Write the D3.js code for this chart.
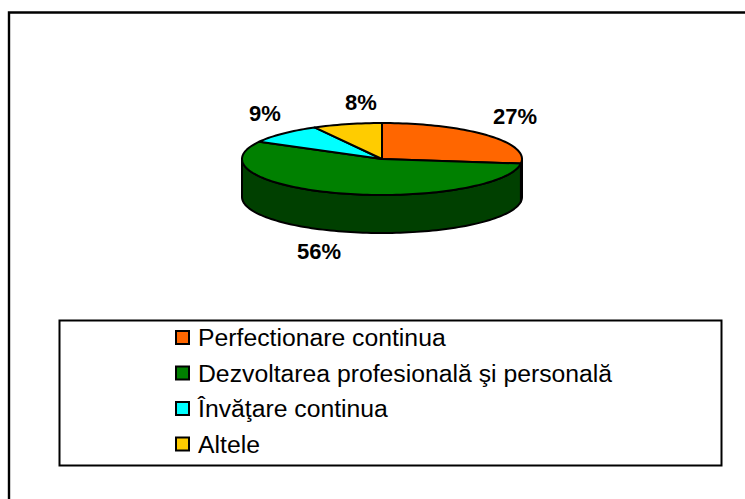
<!DOCTYPE html>
<html>
<head>
<meta charset="utf-8">
<script src="https://cdn.jsdelivr.net/npm/d3@7"></script>
<style>
  html, body { margin: 0; padding: 0; background: #fff; overflow: hidden; }
  svg { display: block; }
  text { font-family: "Liberation Sans", Arial, sans-serif; fill: #000; }
</style>
</head>
<body>
<div id="chart"></div>
<script>
const categories = ["Perfectionare continua", "Dezvoltarea profesională şi personală", "Învăţare continua", "Altele"];
const values = [27, 56, 9, 8];
const colors = ["#FF6600", "#008000", "#00FFFF", "#FFCC00"];
const sideColors = ["#803300", "#004000", "#008080", "#806600"];

const width = 745, height = 499;
const cx = 382, cy = 159, rx = 140, ry = 36, depth = 38;

const svg = d3.select("#chart").append("svg")
    .attr("width", width)
    .attr("height", height);

// the frame is cut off by the image on the right and at the bottom
svg.append("path")
    .attr("d", `M9,${height}V12.5H${width}`)
    .attr("fill", "none")
    .attr("stroke", "#000")
    .attr("stroke-width", 2.4);

// tilted pie: angle -> point on the ellipse
const xPos = a => cx + rx * Math.sin(a);
const yPos = a => cy - ry * Math.cos(a);

function arcPoints(a0, a1, dy) {
    const n = Math.max(2, Math.ceil((a1 - a0) / 0.03));
    return d3.range(n + 1).map(i => {
        const a = a0 + (a1 - a0) * i / n;
        return [xPos(a), yPos(a) + dy];
    });
}

const line = d3.line();
const slices = d3.pie().sort(null)(values);
const pieGroup = svg.append("g");

// side wall, only the front half of the ellipse shows
slices.forEach((s, i) => {
    const a0 = Math.max(s.startAngle, Math.PI / 2);
    const a1 = Math.min(s.endAngle, Math.PI * 1.5);
    if (a1 <= a0) return;
    const pts = arcPoints(a0, a1, 0).concat(arcPoints(a0, a1, depth).reverse());
    pieGroup.append("path")
        .attr("d", line(pts) + "Z")
        .attr("fill", sideColors[i])
        .attr("stroke", "#000")
        .attr("stroke-width", 2)
        .attr("stroke-linejoin", "round");
});

// top face
slices.forEach((s, i) => {
    const pts = [[cx, cy]].concat(arcPoints(s.startAngle, s.endAngle, 0));
    pieGroup.append("path")
        .attr("d", line(pts) + "Z")
        .attr("fill", colors[i])
        .attr("stroke", "#000")
        .attr("stroke-width", 2)
        .attr("stroke-linejoin", "round");
});

// percent labels
const total = d3.sum(values);
const labelPos = [[515, 124], [319, 259], [265, 121], [361, 110]];
svg.selectAll("text.pct")
    .data(values)
    .join("text")
    .attr("class", "pct")
    .attr("x", (d, i) => labelPos[i][0])
    .attr("y", (d, i) => labelPos[i][1])
    .attr("text-anchor", "middle")
    .attr("font-size", 22)
    .attr("font-weight", "bold")
    .text(d => Math.round(d / total * 100) + "%");

// legend
svg.append("rect")
    .attr("x", 59.5).attr("y", 320.5)
    .attr("width", 662).attr("height", 145)
    .attr("fill", "#fff")
    .attr("stroke", "#000")
    .attr("stroke-width", 2);

const rowY = d3.scalePoint().domain(categories).range([337.5, 444]);

const rows = svg.selectAll("g.row")
    .data(categories)
    .join("g")
    .attr("class", "row")
    .attr("transform", d => `translate(0,${rowY(d)})`);

rows.append("rect")
    .attr("x", 176).attr("y", -6.5)
    .attr("width", 13).attr("height", 13)
    .attr("fill", (d, i) => colors[i])
    .attr("stroke", "#000")
    .attr("stroke-width", 2);

rows.append("text")
    .attr("x", 198).attr("y", 8.5)
    .attr("font-size", 24.75)
    .text(d => d);
</script>
</body>
</html>
